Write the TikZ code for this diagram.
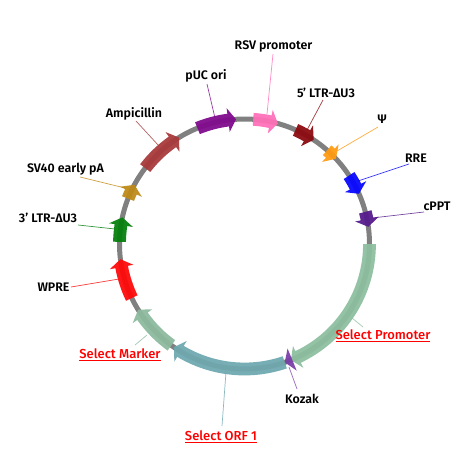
\documentclass[tikz,border=0pt]{standalone}
\usepackage{fontspec}
\setmainfont{Fira Sans}[UprightFont=* Medium,BoldFont=* SemiBold]
\usetikzlibrary{calc}
\definecolor{cpuc}{HTML}{800A8C}
\definecolor{camp}{HTML}{A8383A}
\definecolor{csv}{HTML}{BE8A18}
\definecolor{cltr}{HTML}{057F0D}
\definecolor{cwpre}{HTML}{FF0808}
\definecolor{cmark}{HTML}{8CBA9E}
\definecolor{corf}{HTML}{6FA8AF}
\definecolor{ckoz}{HTML}{7B3FA8}
\definecolor{cprom}{HTML}{8CBE9E}
\definecolor{crsv}{HTML}{FF6FB8}
\definecolor{cfive}{HTML}{8B0A10}
\definecolor{cpsi}{HTML}{FF9A10}
\definecolor{crre}{HTML}{0606FF}
\definecolor{ccppt}{HTML}{551A8B}
\newcommand{\feat}[4][6.4]{%
 % #1 half width, #2 colour, #3 tail angle, #4 tip angle
 \pgfmathsetmacro{\sgn}{(#4>#3)?1:-1}
 \pgfmathsetmacro{\hb}{#4-\sgn*3.6}
 \fill[#2,fill opacity=.94] (#3:125-#1) arc[start angle=#3,end angle=\hb,radius=125-#1]
   -- (\hb:125-12) -- (#4:125) -- (\hb:125+12) -- (\hb:125+#1)
   arc[start angle=\hb,end angle=#3,radius=125+#1] -- cycle;
}
\tikzset{
 lead/.style={line width=.7pt,opacity=.8},
 lbl/.style={font=\fontsize{12.4}{14}\selectfont\bfseries,text=black,inner sep=0pt},
 sel/.style={font=\fontsize{13}{15}\selectfont,text=red,inner sep=0pt},
}
\newcommand{\ul}[1]{\underline{#1}}
\begin{document}
\begin{tikzpicture}[x=1pt,y=-1pt]
\useasboundingbox (0,0) rectangle (475,469);
\begin{scope}[shift={(244.5,244)},y=1pt]
\draw[line width=5pt,color=black!50] (0,0) circle[radius=125];
\feat{cpuc}{112.1}{93.9}
\feat{camp}{142.6}{121.6}
\feat{csv}{158.7}{151.7}
\feat{cltr}{179}{167.7}
\feat{cwpre}{205.6}{187}
\feat{cmark}{234.2}{211.7}
\feat{corf}{288.8}{235.6}
\feat{cprom}{360}{291.8}
\feat{ckoz}{292.4}{288.8}
\feat{crsv}{86}{74.5}
\feat{cfive}{65.9}{56.4}
\feat{cpsi}{48.6}{43}
\feat{crre}{33.2}{23.7}
\feat{ccppt}{14.9}{7.9}
\end{scope}
\node[lbl] (puc) at (206,75.5) {pUC ori};
\node[lbl] (amp) at (134,114) {Ampicillin};
\node[lbl] (sv) at (65.5,169) {SV40 early pA};
\node[lbl] (three) at (48,218) {3' LTR-ΔU3};
\node[lbl] (wpre) at (53.5,287) {WPRE};
\node[lbl] (rsv) at (273.5,46) {RSV promoter};
\node[lbl] (five) at (326,93) {5' LTR-ΔU3};
\node[lbl] (psi) at (382,119) {Ψ};
\node[lbl] (rre) at (416,158) {RRE};
\node[lbl] (cppt) at (437,206) {cPPT};
\node[lbl] (koz) at (302,399) {Kozak};
\node[sel] (mark) at (120,355) {\ul{Select Marker}};
\node[sel] (orf) at (221,437) {\ul{Select ORF 1}};
\node[sel] (prom) at (383,336) {\ul{Select Promoter}};
\coordinate (p1) at (215,118);
\coordinate (p2) at (159,146);
\coordinate (p3) at (125,188);
\coordinate (p4) at (115,229);
\coordinate (p5) at (119,279);
\coordinate (p6) at (147,335);
\coordinate (p7) at (226,372);
\coordinate (p8) at (352,318);
\coordinate (p9) at (289,367);
\coordinate (p10) at (267,114);
\coordinate (p11) at (307,130);
\coordinate (p12) at (337,151);
\coordinate (p13) at (358,181);
\coordinate (p14) at (372,218);
\draw[lead,cpuc] (207,84) -- (p1);
\draw[lead,camp] (136,121) -- (p2);
\draw[lead,csv] (80,177) -- (p3);
\draw[lead,cltr] (78,225) -- (p4);
\draw[lead,cwpre] (71,287) -- (p5);
\draw[lead,cmark] (135,345) -- (p6);
\draw[lead,corf] (222,426) -- (p7);
\draw[lead,cprom] (363,327) -- (p8);
\draw[lead,ckoz] (297,389) -- (p9);
\draw[lead,crsv] (273,54) -- (p10);
\draw[lead,cfive] (323,100) -- (p11);
\draw[lead,cpsi] (378,127) -- (p12);
\draw[lead,crre] (409,164) -- (p13);
\draw[lead,ccppt] (424,212) -- (p14);
\end{tikzpicture}
\end{document}
